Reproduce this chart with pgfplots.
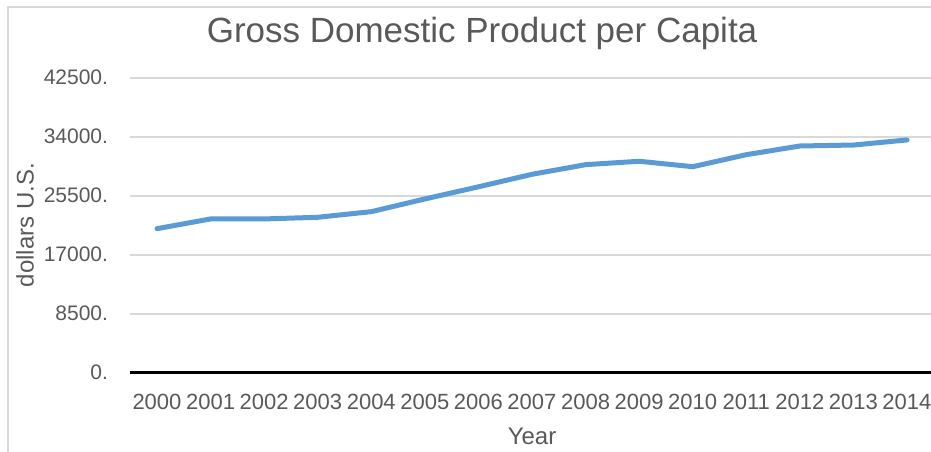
\documentclass[border=0pt]{standalone}
\usepackage{pgfplots}
\pgfplotsset{compat=1.18}
\usepackage{fontspec}
\setmainfont{Liberation Sans}

\definecolor{txtgray}{HTML}{595959}
\definecolor{gridgray}{HTML}{D9D9D9}
\definecolor{lineblue}{HTML}{5B9BD5}

\pgfplotstableread{
year gdp
2000 20750
2001 22150
2002 22150
2003 22390
2004 23200
2005 25030
2006 26780
2007 28580
2008 29970
2009 30460
2010 29680
2011 31410
2012 32660
2013 32800
2014 33530
}\gdptable

\begin{document}
\begin{tikzpicture}
\useasboundingbox (0,0) rectangle (931pt,452pt);
% chart area frame
\draw[gridgray, line width=1.2pt] (8pt,-20pt) -- (8pt,445pt) -- (960pt,445pt);
\begin{axis}[
  at={(130.2pt,79.3pt)}, anchor=south west,
  scale only axis,
  width=803.6pt, height=295pt,
  xmin=1999.5, xmax=2014.5,
  ymin=0, ymax=42500,
  scaled y ticks=false,
  axis x line*=bottom, axis y line*=left,
  x axis line style={black, line width=2.5pt},
  y axis line style={draw=none},
  major tick length=0pt,
  xtick={2000,...,2014},
  xticklabels={2000,2001,2002,2003,2004,2005,2006,2007,2008,2009,2010,2011,2012,2013,2014},
  ytick={0,8500,17000,25500,34000,42500},
  yticklabels={0.,8500.,17000.,25500.,34000.,42500.},
  ymajorgrids,
  grid style={gridgray, line width=2pt},
  xticklabel style={font=\fontsize{22}{26}\selectfont, text=txtgray, anchor=north, inner sep=0pt, yshift=-21pt},
  yticklabel style={font=\fontsize{21}{25}\selectfont, text=txtgray, anchor=east, inner sep=0pt, xshift=-22pt},
  title={Gross Domestic Product per Capita},
  title style={font=\fontsize{35}{40}\selectfont, text=txtgray, at={(axis description cs:0.4378,1.131)}, anchor=center, inner sep=0pt},
  xlabel={Year},
  xlabel style={font=\fontsize{24}{28}\selectfont, text=txtgray, at={(axis description cs:0.5,-0.2146)}, anchor=center, inner sep=0pt},
  ylabel={dollars U.S.},
  ylabel style={font=\fontsize{24}{28}\selectfont, text=txtgray, at={(axis description cs:-0.1309,0.5)}, anchor=center, inner sep=0pt},
  clip=false,
]
\addplot[lineblue, line width=5pt, line join=round, line cap=round] table[x=year, y=gdp] {\gdptable};
\end{axis}
\end{tikzpicture}
\end{document}
